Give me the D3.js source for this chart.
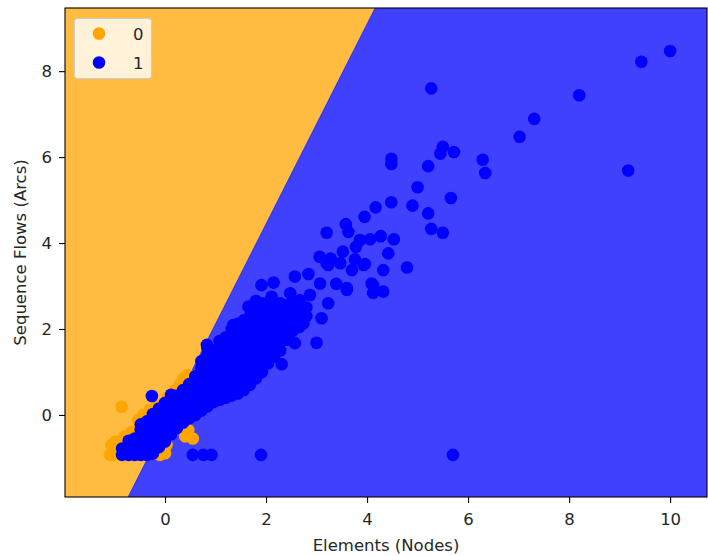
<!DOCTYPE html>
<meta charset="utf-8">
<script src="https://d3js.org/d3.v7.min.js"></script>
<style>
    body { margin: 0; background: #fff; }
    text { font-family: "DejaVu Sans", sans-serif; fill: #262626; }
</style>
<div id="chart"></div>
<script>
    // axis ranges and ticks
    const xDomain = [-1.98, 10.73];
    const yDomain = [-1.91, 9.47];
    const xTicks = [0, 2, 4, 6, 8, 10];
    const yTicks = [0, 2, 4, 6, 8];
    const classLabels = ["0", "1"];
    const classColors = ["#ffa500", "#0000ff"];
    const regionColors = ["#ffbc40", "#4040ff"];

    // two points on the decision boundary (data units)
    const boundary = [[-0.73, -1.91], [4.16, 9.47]];

    // class 0 points
    const class0 = [
        [-0.86, 0.19], [0.4, -0.5], [0.46, -0.35], [0.03, -0.7], [0.0, -0.89], [-0.1, -0.93],
        [-0.2, -0.9], [-1.06, -0.7], [-1.02, -0.86], [-1.03, -0.93], [-1.09, -0.93], [-0.98, -0.62],
        [-0.66, -0.39], [-0.53, -0.12], [-0.43, 0.0], [-0.3, 0.12], [-0.15, 0.25], [0.05, 0.4],
        [0.2, 0.58], [0.3, 0.72], [0.36, 0.84], [0.46, 0.93], [-0.8, -0.5], [0.55, -0.55]
    ];

    // class 1 points
    const class1 = [
        // sparse upper points
        [10.0, 8.47], [9.43, 8.22], [8.2, 7.44], [7.31, 6.89], [7.02, 6.47], [5.27, 7.6],
        [9.17, 5.69], [6.29, 5.94], [6.34, 5.63], [5.5, 6.24], [5.45, 6.08], [5.72, 6.12],
        [4.48, 5.96], [4.48, 5.84], [5.21, 5.79], [5.0, 5.3], [5.66, 5.05], [4.48, 4.95],
        [4.9, 4.87], [5.21, 4.69], [4.17, 4.83], [3.95, 4.61], [5.27, 4.33], [5.5, 4.24],
        [4.27, 4.16], [4.06, 4.09], [4.53, 4.09],
        // middle points
        [3.2, 4.24], [3.58, 4.44], [3.63, 4.26], [3.86, 4.07], [3.78, 3.91], [3.52, 3.8],
        [3.06, 3.68], [3.28, 3.64], [3.47, 3.53], [3.23, 3.49], [3.76, 3.62], [4.42, 3.76],
        [3.96, 3.51], [3.7, 3.37], [4.32, 3.37], [4.79, 3.43], [2.57, 3.22], [2.84, 3.28],
        [1.91, 3.02], [2.15, 3.08], [3.07, 3.06], [3.39, 3.05], [3.6, 2.91], [4.12, 3.02],
        [4.12, 2.84], [3.93, 3.49], [3.2, 3.53], [4.09, 3.06], [4.32, 2.87], [2.48, 2.83],
        [2.67, 2.67], [2.87, 2.79], [3.23, 2.6], [3.1, 2.25], [2.74, 2.13], [3.0, 1.68],
        [2.57, 1.67], [2.31, 1.18], [1.65, 2.52], [2.11, 2.75], [2.28, 2.6], [1.35, 2.09],
        [0.83, 1.63], [3.6, 2.95],
        // bottom row and strays
        [0.55, -0.93], [0.76, -0.93], [0.92, -0.93], [1.9, -0.93], [5.7, -0.93], [-0.26, 0.44],
        // dense band
        [-0.85, -0.93], [-0.85, -0.78],
        [-0.72, -0.93], [-0.72, -0.75], [-0.72, -0.6],
        [-0.6, -0.93], [-0.6, -0.75], [-0.6, -0.55],
        [-0.48, -0.93], [-0.48, -0.75], [-0.48, -0.55], [-0.48, -0.35], [-0.48, -0.22],
        [-0.36, -0.93], [-0.36, -0.75], [-0.36, -0.55], [-0.36, -0.35], [-0.36, -0.15],
        [-0.24, -0.9], [-0.24, -0.7], [-0.24, -0.5], [-0.24, -0.3], [-0.24, -0.1], [-0.24, 0.02],
        [-0.12, -0.75], [-0.12, -0.55], [-0.12, -0.35], [-0.12, -0.15], [-0.12, 0.05], [-0.12, 0.15],
        [0.0, -0.62], [0.0, -0.42], [0.0, -0.22], [0.0, -0.02], [0.0, 0.18], [0.0, 0.28],
        [0.12, -0.45], [0.12, -0.25], [0.12, -0.05], [0.12, 0.15], [0.12, 0.35], [0.12, 0.47],
        [0.24, -0.3], [0.24, -0.1], [0.24, 0.1], [0.24, 0.3], [0.24, 0.45],
        [0.36, -0.18], [0.36, 0.02], [0.36, 0.22], [0.36, 0.42], [0.36, 0.58],
        [0.48, -0.08], [0.48, 0.12], [0.48, 0.32], [0.48, 0.52], [0.48, 0.72],
        [0.6, 0.0], [0.6, 0.2], [0.6, 0.4], [0.6, 0.6], [0.6, 0.8], [0.6, 0.9],
        [0.72, 0.1], [0.72, 0.3], [0.72, 0.5], [0.72, 0.7], [0.72, 0.9], [0.72, 1.1], [0.72, 1.25],
        [0.84, 0.2], [0.84, 0.4], [0.84, 0.6], [0.84, 0.8], [0.84, 1.0], [0.84, 1.2], [0.84, 1.4], [0.84, 1.55],
        [0.96, 0.3], [0.96, 0.5], [0.96, 0.7], [0.96, 0.9], [0.96, 1.1], [0.96, 1.3], [0.96, 1.5],
        [1.08, 0.35], [1.08, 0.55], [1.08, 0.75], [1.08, 0.95], [1.08, 1.15], [1.08, 1.35], [1.08, 1.55], [1.08, 1.72],
        [1.2, 0.4], [1.2, 0.6], [1.2, 0.8], [1.2, 1.0], [1.2, 1.2], [1.2, 1.4], [1.2, 1.6], [1.2, 1.8],
        [1.32, 0.45], [1.32, 0.65], [1.32, 0.85], [1.32, 1.05], [1.32, 1.25], [1.32, 1.45], [1.32, 1.65], [1.32, 1.85], [1.32, 2.0],
        [1.44, 0.5], [1.44, 0.7], [1.44, 0.9], [1.44, 1.1], [1.44, 1.3], [1.44, 1.5], [1.44, 1.7], [1.44, 1.9], [1.44, 2.12],
        [1.56, 0.58], [1.56, 0.78], [1.56, 0.98], [1.56, 1.18], [1.56, 1.38], [1.56, 1.58], [1.56, 1.78], [1.56, 1.98], [1.56, 2.2],
        [1.68, 0.7], [1.68, 0.9], [1.68, 1.1], [1.68, 1.3], [1.68, 1.5], [1.68, 1.7], [1.68, 1.9], [1.68, 2.1], [1.68, 2.3],
        [1.8, 0.85], [1.8, 1.05], [1.8, 1.25], [1.8, 1.45], [1.8, 1.65], [1.8, 1.85], [1.8, 2.05], [1.8, 2.25], [1.8, 2.45], [1.8, 2.65],
        [1.92, 1.0], [1.92, 1.2], [1.92, 1.4], [1.92, 1.6], [1.92, 1.8], [1.92, 2.0], [1.92, 2.2], [1.92, 2.4], [1.92, 2.6],
        [2.04, 1.2], [2.04, 1.4], [2.04, 1.6], [2.04, 1.8], [2.04, 2.0], [2.04, 2.2], [2.04, 2.4], [2.04, 2.6],
        [2.16, 1.35], [2.16, 1.55], [2.16, 1.75], [2.16, 1.95], [2.16, 2.15], [2.16, 2.35], [2.16, 2.55],
        [2.28, 1.5], [2.28, 1.7], [2.28, 1.9], [2.28, 2.1], [2.28, 2.3], [2.28, 2.5],
        [2.4, 1.75], [2.4, 1.95], [2.4, 2.15], [2.4, 2.35], [2.4, 2.55],
        [2.52, 1.95], [2.52, 2.15], [2.52, 2.35], [2.52, 2.6],
        [2.66, 2.05], [2.66, 2.3], [2.66, 2.5],
        [2.8, 2.3], [2.8, 2.5]
    ];

    var fontSize = 16.5;

    var margin = { top: 8, right: 1, bottom: 59, left: 65 },
        width = 708 - margin.left - margin.right,
        height = 556 - margin.top - margin.bottom;

    var svg = d3.select("#chart")
        .append("svg")
        .attr("width", 708)
        .attr("height", 556);

    var x = d3.scaleLinear().domain(xDomain).range([margin.left, margin.left + width]);
    var y = d3.scaleLinear().domain(yDomain).range([margin.top + height, margin.top]);

    // decision regions: left of the boundary is class 0
    var orangeRegion = [
        [xDomain[0], yDomain[0]], boundary[0], boundary[1], [xDomain[0], yDomain[1]]
    ];
    var blueRegion = [
        boundary[0], [xDomain[1], yDomain[0]], [xDomain[1], yDomain[1]], boundary[1]
    ];
    var toPath = function (pts) {
        return "M" + pts.map(function (p) { return x(p[0]) + "," + y(p[1]); }).join("L") + "Z";
    };

    svg.append("path").attr("d", toPath(orangeRegion)).attr("fill", regionColors[0]);
    svg.append("path").attr("d", toPath(blueRegion)).attr("fill", regionColors[1]);
    svg.append("line")
        .attr("x1", x(boundary[0][0])).attr("y1", y(boundary[0][1]))
        .attr("x2", x(boundary[1][0])).attr("y2", y(boundary[1][1]))
        .attr("stroke", "#1010ff").attr("stroke-width", 1).attr("stroke-opacity", 0.7);

    // scatter, class 0 first then class 1 on top
    [class0, class1].forEach(function (pts, i) {
        svg.append("g")
            .selectAll("circle")
            .data(pts)
            .enter()
            .append("circle")
            .attr("cx", function (d) { return x(d[0]); })
            .attr("cy", function (d) { return y(d[1]); })
            .attr("r", 6.3)
            .attr("fill", classColors[i]);
    });

    // axes
    var xAxis = svg.append("g")
        .attr("transform", "translate(0," + (margin.top + height) + ")")
        .call(d3.axisBottom(x).tickValues(xTicks).tickSize(6).tickPadding(10).tickFormat(d3.format("d")));
    var yAxis = svg.append("g")
        .attr("transform", "translate(" + margin.left + ",0)")
        .call(d3.axisLeft(y).tickValues(yTicks).tickSize(6).tickPadding(7).tickFormat(d3.format("d")));
    [xAxis, yAxis].forEach(function (a) {
        a.select(".domain").remove();
        a.selectAll("line").attr("stroke", "#000").attr("stroke-width", 1.1);
        a.selectAll("text").attr("font-size", fontSize).attr("fill", "#262626")
            .attr("font-family", "DejaVu Sans, sans-serif");
    });

    // frame
    svg.append("rect")
        .attr("x", margin.left).attr("y", margin.top)
        .attr("width", width).attr("height", height)
        .attr("fill", "none").attr("stroke", "#000").attr("stroke-width", 1.1);

    svg.append("text")
        .attr("x", margin.left + width / 2)
        .attr("y", 551)
        .attr("text-anchor", "middle")
        .attr("font-size", fontSize)
        .text("Elements (Nodes)");

    svg.append("text")
        .attr("transform", "translate(26," + (margin.top + height / 2) + ") rotate(-90)")
        .attr("text-anchor", "middle")
        .attr("font-size", fontSize)
        .text("Sequence Flows (Arcs)");

    // legend
    var legend = svg.append("g");
    legend.append("rect")
        .attr("x", 74.5).attr("y", 18.5)
        .attr("width", 77).attr("height", 60)
        .attr("rx", 3)
        .attr("fill", "#fff").attr("fill-opacity", 0.8)
        .attr("stroke", "#cccccc").attr("stroke-width", 1);
    classLabels.forEach(function (lab, i) {
        legend.append("circle")
            .attr("cx", 99).attr("cy", 33.5 + i * 29)
            .attr("r", 6.3)
            .attr("fill", classColors[i]);
        legend.append("text")
            .attr("x", 133).attr("y", 39.5 + i * 29)
            .attr("font-size", fontSize)
            .text(lab);
    });
</script>
